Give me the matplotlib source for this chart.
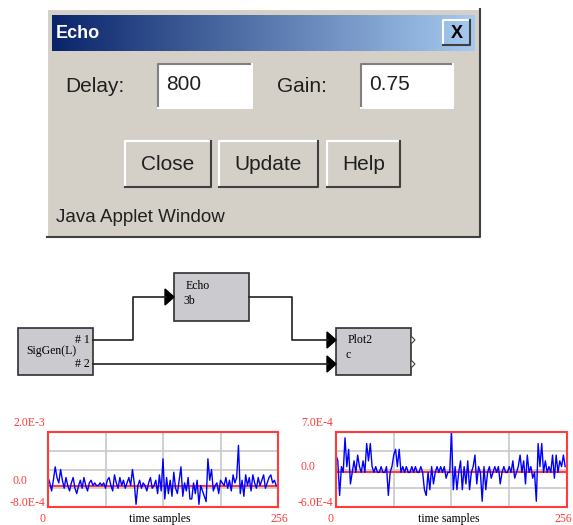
import numpy as np
import matplotlib
matplotlib.use("Agg")
import matplotlib.pyplot as plt
from matplotlib.patches import Rectangle, Polygon

# Dialog content
dialog_title = "Echo"
field_labels = ["Delay:", "Gain:"]
field_values = ["800", "0.75"]
button_labels = ["Close", "Update", "Help"]
status_text = "Java Applet Window"

# Block diagram text
source_name = "SigGen(L)"
source_ports = ["# 1", "# 2"]
echo_name = ["Echo", "3b"]
plot_name = ["Plot2", "c"]

# Plot data (x 1e-4), one value every 2 samples
n_samples = 256
input_signal = [3, 1, -2, 2, 7, 3, 1, 6, 2, -1, 3, 0, -2, 1, 3, -1,
                -3, 0, 2, -1, 3, 0, -2, 1, 2, 0, 1, 0, 0, 1, 0, 1,
                -1, 2, 3, 0, -2, 4, 1, -1, 3, 0, 2, -1, 1, 3, 0, 6,
                1, -7, 0, 2, -1, 1, 0, -2, 1, 3, -1, 0, 2, -3, 4, -2,
                10, -5, 3, -3, 2, -4, 5, -1, -3, 2, 7, -4, 1, -2, 3, -5,
                -5, 1, -3, 2, -7, 0, -2, -4, -6, 10, 2, 6, -2, 0, 1, -3,
                2, 1, 0, 3, -1, 2, -2, 4, 1, 3, 15, -3, 2, -4, 4, 0,
                3, -2, 4, 1, -1, 3, 0, 2, 4, -1, 1, 3, 4, 1, 2, 0]
output_signal = [3, 2, -4, 1, 0, 6, 1, 4, -2, 0, 2, 0, 3, 1, 0, 2,
                 0, 5, 2, 5, 1, 0, 1, 0, 0, 1, 0, 0, 1, -4, 0, 1,
                 3, 4, 1, 4, 0, 1, 0, 1, 0, 0, 1, 0, 1, 0, 0, 1,
                 0, -3, -4, 0, -3, 1, -2, 0, 1, 0, 1, 0, 1, -1, 0, 0,
                 7, -3, 1, -3, 0, 2, -3, 1, -2, 2, -3, 0, 1, 3, -2, 1,
                 0, -5, 1, -3, 0, 1, -1, 0, 1, 0, 1, -2, 0, 1, 0, 0,
                 1, 0, 2, -1, 0, 1, 3, 0, 2, -2, 3, 0, 1, -1, 0, -5,
                 5, 1, 5, 0, 2, 0, 1, 0, 3, -1, 3, 0, 2, 1, 3, 1]
input_range = (-8.0e-4, 2.0e-3)
output_range = (-6.0e-4, 7.0e-4)
input_labels = ["2.0E-3", "0.0", "-8.0E-4"]
output_labels = ["7.0E-4", "0.0", "-6.0E-4"]

W, H = 573, 525
GRAY = "#d4d0c8"
RED = "#ff3b3b"
SANS = "Liberation Sans"
SERIF = "Liberation Serif"

fig = plt.figure(figsize=(W / 100, H / 100), dpi=100)
bg = fig.add_axes([0, 0, 1, 1])
bg.set_xlim(0, W)
bg.set_ylim(H, 0)
bg.axis("off")


def bevel(ax, x0, y0, x1, y1, raised=True, face=GRAY):
    ax.add_patch(Rectangle((x0, y0), x1 - x0, y1 - y0, facecolor=face,
                           edgecolor="none"))
    light, dark = ("white", "#404040") if raised else ("#808080", "white")
    ax.plot([x0, x0, x1], [y1, y0, y0], color=light, lw=1.5)
    ax.plot([x0, x1, x1], [y1, y1, y0], color=dark, lw=1.5)


# Window frame
bevel(bg, 47, 9, 480, 237, raised=True)
grad = np.linspace(0, 1, 256).reshape(1, -1)
cmap = matplotlib.colors.LinearSegmentedColormap.from_list(
    "title", ["#0a246a", "#a6caf0"])
bg.imshow(grad, cmap=cmap, extent=(52, 475, 51, 15), aspect="auto", zorder=2)
bg.text(56, 33, dialog_title, color="white", fontsize=13, fontweight="bold",
        family=SANS, va="center", zorder=3)
bevel(bg, 443, 20, 470, 45, raised=True)
bg.text(456.5, 33, "X", fontsize=13, fontweight="bold", family=SANS,
        ha="center", va="center", zorder=4)

# Fields
label_x = [65, 277]
box_x = [(158, 252), (361, 453)]
for lab, val, lx, (bx0, bx1) in zip(field_labels, field_values, label_x, box_x):
    bg.text(lx, 87, lab, fontsize=15, family=SANS, color="#202020", va="center")
    bevel(bg, bx0, 64, bx1, 108, raised=False, face="white")
    bg.text(bx0 + 8, 85, val, fontsize=15, family=SANS, color="#202020",
            va="center")

# Buttons
button_x = [(125, 211), (219, 318), (327, 400)]
for lab, (bx0, bx1) in zip(button_labels, button_x):
    bevel(bg, bx0, 141, bx1, 187, raised=True)
    bg.text((bx0 + bx1) / 2, 164, lab, fontsize=15, family=SANS,
            color="#202020", ha="center", va="center")

bg.text(56, 217, status_text, fontsize=13.5, family=SANS, color="#202020",
        va="center")

# Block diagram
BOX = "#cbcbcf"
for x0, y0, x1, y1 in [(18, 328, 93, 375), (174, 273, 249, 321),
                       (336, 328, 411, 375)]:
    bg.add_patch(Rectangle((x0, y0), x1 - x0, y1 - y0, facecolor=BOX,
                           edgecolor="#303030", lw=1.2))
bg.text(26, 351, source_name, fontsize=8.5, family=SERIF, va="center")
bg.text(90, 340, source_ports[0], fontsize=8.5, family=SERIF, va="center",
        ha="right")
bg.text(90, 364, source_ports[1], fontsize=8.5, family=SERIF, va="center",
        ha="right")
bg.text(186, 286, echo_name[0], fontsize=8.5, family=SERIF, va="center")
bg.text(183, 301, echo_name[1], fontsize=8.5, family=SERIF, va="center")
bg.text(348, 340, plot_name[0], fontsize=8.5, family=SERIF, va="center")
bg.text(345, 355, plot_name[1], fontsize=8.5, family=SERIF, va="center")

wire = dict(color="#202020", lw=1.2)
bg.plot([93, 133, 133, 166], [340, 340, 297, 297], **wire)
bg.plot([249, 292, 292, 328], [297, 297, 340, 340], **wire)
bg.plot([93, 328], [364, 364], **wire)
for ax_, ay in [(174, 297), (336, 340), (336, 364)]:
    bg.add_patch(Polygon([(ax_ - 9, ay - 8), (ax_, ay), (ax_ - 9, ay + 8)],
                         closed=True, facecolor="black", edgecolor="black"))
for ay in [340, 364]:
    bg.add_patch(Polygon([(411, ay - 4), (415, ay), (411, ay + 4)],
                         closed=True, facecolor="white", edgecolor="#404040",
                         lw=0.8))


# Signal plots
def signal_plot(x0, x1, data, yr, labels):
    ax = fig.add_axes([x0 / W, 1 - 507 / H, (x1 - x0) / W, 75 / H])
    y = np.array(data) * 1e-4
    x = np.arange(len(y)) * (n_samples / len(y))
    ax.set_xlim(0, n_samples)
    ax.set_ylim(*yr)
    ax.set_xticks([64, 128, 192])
    ax.set_yticks(np.linspace(yr[0], yr[1], 5)[1:-1])
    ax.tick_params(length=0, labelbottom=False, labelleft=False)
    ax.grid(True, color="#c8c8c8", lw=1.2)
    ax.axhline(0, color=RED, lw=1.5)
    ax.plot(x, y, color="#0000ff", lw=1.0)
    for s in ax.spines.values():
        s.set_color(RED)
        s.set_linewidth(1.5)
    zero_y = 507 - (0 - yr[0]) / (yr[1] - yr[0]) * 75
    fs = 8.5
    bg.text(x0 - 3, 423, labels[0], color=RED, fontsize=fs, family=SERIF,
            ha="right", va="center")
    bg.text(x0 - 21, zero_y - 5, labels[1], color=RED, fontsize=fs,
            family=SERIF, ha="right", va="center")
    bg.text(x0 - 3, 503, labels[2], color=RED, fontsize=fs, family=SERIF,
            ha="right", va="center")
    bg.text(x0 - 8, 519, "0", color=RED, fontsize=fs, family=SERIF,
            ha="left", va="center")
    bg.text(min(x1 + 10, W - 1), 519, "256", color=RED, fontsize=fs,
            family=SERIF, ha="right", va="center")
    bg.text((x0 + x1) / 2 - 3, 519, "time samples", color="black", fontsize=fs,
            family=SERIF, ha="center", va="center")
    return ax


signal_plot(48, 278, input_signal, input_range, input_labels)
signal_plot(336, 567, output_signal, output_range, output_labels)

fig.savefig("out.png", dpi=100)
